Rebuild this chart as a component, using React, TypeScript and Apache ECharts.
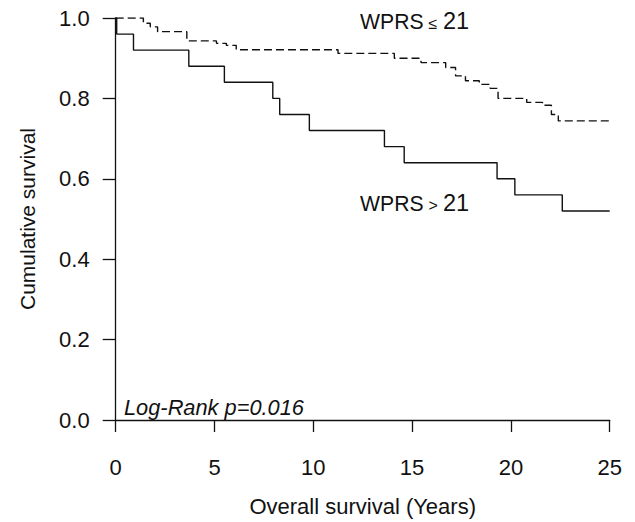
import React, { useEffect, useRef } from "react";
import * as echarts from "echarts";

const lowRiskTimes = [0, 1.4, 1.75, 2.12, 3.6, 5.1, 5.6, 6.1, 11.25, 14.1, 15.45, 16.7, 17.2, 17.7, 18.4, 18.95, 19.35, 20.8, 21.6, 22.05, 22.4, 25];
const lowRiskSurv = [1.0, 0.987, 0.978, 0.966, 0.943, 0.937, 0.932, 0.921, 0.912, 0.9, 0.889, 0.877, 0.856, 0.844, 0.835, 0.825, 0.8, 0.79, 0.783, 0.76, 0.744, 0.744];

const highRiskTimes = [0, 0.05, 0.9, 3.7, 5.5, 7.95, 8.3, 9.8, 13.6, 14.6, 19.3, 20.2, 22.6, 25];
const highRiskSurv = [1.0, 0.96, 0.92, 0.88, 0.84, 0.8, 0.76, 0.72, 0.68, 0.64, 0.6, 0.56, 0.52, 0.52];

const xTicks = [0, 5, 10, 15, 20, 25];
const yTicks = [0, 0.2, 0.4, 0.6, 0.8, 1.0];

const FONT = "'Liberation Sans', Arial, Helvetica, sans-serif";
const INK = "#111";

export default function App() {
  const ref = useRef<HTMLDivElement>(null);
  useEffect(() => {
    if (!ref.current) return;
    const chart = echarts.init(ref.current, undefined, { renderer: "svg" });
    const low = lowRiskTimes.map((t, i) => [t, lowRiskSurv[i]]);
    const high = highRiskTimes.map((t, i) => [t, highRiskSurv[i]]);
    const label = (parts: { text: string; x: number; y: number; size: number }[]) =>
      parts.map((p) => ({
        type: "text",
        left: p.x,
        top: p.y,
        style: { text: p.text, fontFamily: FONT, fontSize: p.size, fill: INK },
      }));
    chart.setOption({
      animation: false,
      backgroundColor: "#fff",
      grid: { left: 115.7, right: 25.3, top: 18, bottom: 91 },
      xAxis: {
        type: "value",
        min: xTicks[0],
        max: xTicks[xTicks.length - 1],
        interval: 5,
        name: "Overall survival (Years)",
        nameLocation: "middle",
        nameGap: 75,
        nameTextStyle: { fontFamily: FONT, fontSize: 22, color: INK },
        axisLine: { show: true, lineStyle: { color: INK, width: 1.3 } },
        axisTick: { show: true, inside: false, length: 12, lineStyle: { color: INK, width: 1.3 } },
        axisLabel: { margin: 36, fontFamily: FONT, fontSize: 22, color: INK },
        splitLine: { show: false },
      },
      yAxis: {
        type: "value",
        min: yTicks[0],
        max: yTicks[yTicks.length - 1],
        interval: 0.2,
        name: "Cumulative survival",
        nameLocation: "middle",
        nameGap: 78,
        nameTextStyle: { fontFamily: FONT, fontSize: 21, color: INK },
        axisLine: { show: true, lineStyle: { color: INK, width: 1.3 } },
        axisTick: { show: true, inside: false, length: 13, lineStyle: { color: INK, width: 1.3 } },
        axisLabel: {
          margin: 26,
          fontFamily: FONT,
          fontSize: 22,
          color: INK,
          formatter: (v: number) => v.toFixed(1),
        },
        splitLine: { show: false },
      },
      series: [
        {
          name: "WPRS ≤ 21",
          type: "line",
          step: "end",
          data: low,
          symbol: "none",
          lineStyle: { color: INK, width: 1.4, type: [8, 4] },
        },
        {
          name: "WPRS > 21",
          type: "line",
          step: "end",
          data: high,
          symbol: "none",
          lineStyle: { color: INK, width: 1.4, type: "solid" },
        },
      ],
      graphic: [
        ...label([
          { text: "WPRS", x: 360, y: 10.5, size: 21.2 },
          { text: "≤", x: 428.5, y: 15, size: 16 },
          { text: "21", x: 443, y: 9, size: 23.5 },
          { text: "WPRS", x: 360, y: 192.5, size: 21.2 },
          { text: ">", x: 428.5, y: 197, size: 16 },
          { text: "21", x: 443, y: 191, size: 23.5 },
        ]),
        {
          type: "text",
          left: 124,
          top: 396,
          style: {
            text: "Log-Rank p=0.016",
            fontFamily: FONT,
            fontSize: 21.8,
            fontStyle: "italic",
            fill: INK,
          },
        },
      ],
    });
    return () => chart.dispose();
  }, []);
  return (
    <div
      ref={ref}
      style={{ position: "fixed", left: 0, top: 0, width: 635, height: 522, background: "#fff" }}
    />
  );
}
